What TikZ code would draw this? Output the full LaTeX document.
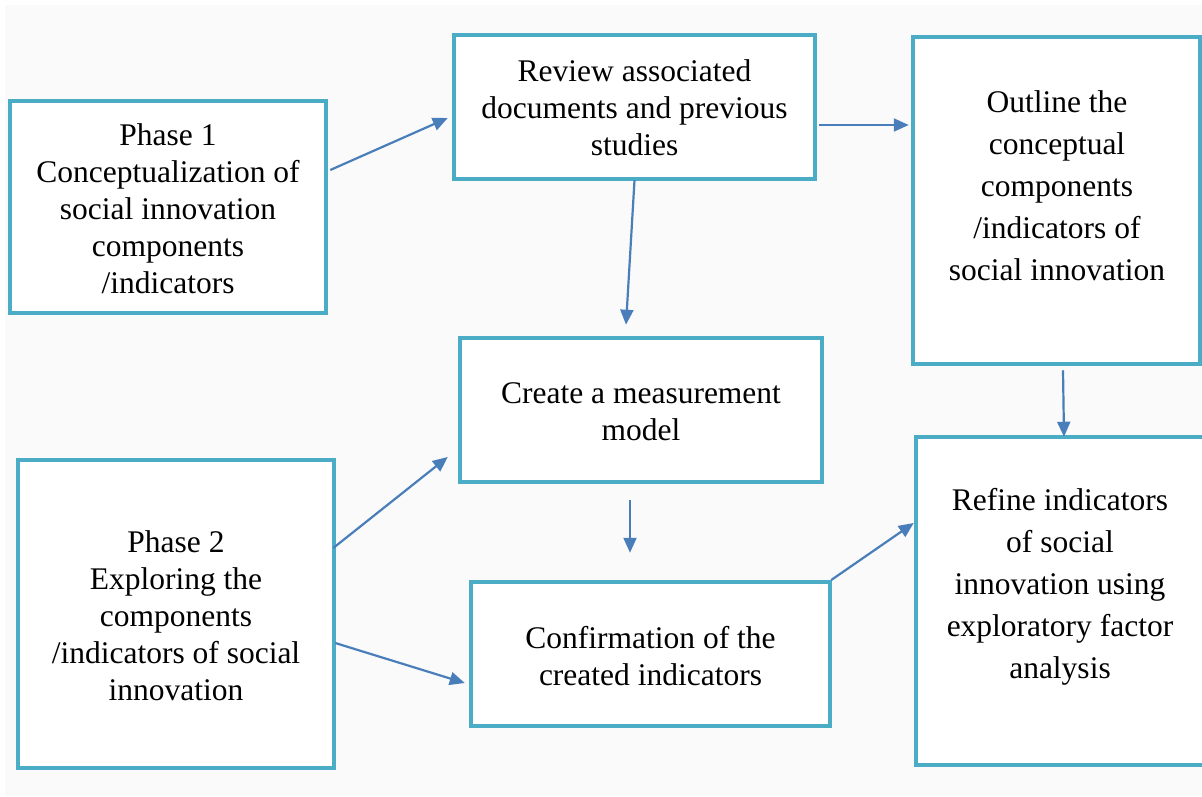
\documentclass[tikz,border=0pt]{standalone}
\usepackage{fontspec}
\setmainfont{Liberation Serif}
\usetikzlibrary{arrows.meta,calc}
\definecolor{boxc}{HTML}{4BACC6}
\definecolor{arrc}{HTML}{4A7EBB}
\definecolor{bgc}{HTML}{FAFAFA}
\begin{document}
\begin{tikzpicture}[x=1pt,y=-1pt,
  box/.style={draw=boxc,line width=4.5pt,fill=white,inner sep=0pt},
  txt/.style={align=center,font=\fontsize{31.5}{37}\selectfont,inner sep=0pt},
  txtw/.style={align=center,font=\fontsize{31.5}{42}\selectfont,inner sep=0pt},
  arr/.style={draw=arrc,line width=2.2pt,-{Triangle[length=15pt,width=13pt]}}]
\useasboundingbox (0,0) rectangle (1202,796);
\clip (0,0) rectangle (1202,796);
\fill[white] (0,0) rectangle (1202,796);
\fill[bgc] (5,5) rectangle (1202,796);
% boxes
\node[box,minimum width=316pt,minimum height=212pt] (p1) at (168,207) {};
\node[box,minimum width=361pt,minimum height=144pt] (rev) at (634.5,107) {};
\node[box,minimum width=287pt,minimum height=327pt] (out) at (1056.5,200.5) {};
\node[box,minimum width=362pt,minimum height=144pt] (cre) at (641,410) {};
\node[box,minimum width=316pt,minimum height=308pt] (p2) at (176,614) {};
\node[box,minimum width=359pt,minimum height=144pt] (con) at (650.5,654) {};
\node[box,minimum width=294pt,minimum height=328pt] (ref) at (1063,601) {};
% texts
\node[txt] (p1t) at (168,209) {Phase 1\\Conceptualization of\\social innovation\\components\\/indicators};
\node[txt] (revt) at (634.5,108) {Review associated\\documents and previous\\studies};
\node[txtw] (outt) at (1057,186) {Outline the\\conceptual\\components\\/indicators of\\social innovation};
\node[txt] (cret) at (641,412) {Create a measurement\\model};
\node[txt] (p2t) at (176,616) {Phase 2\\Exploring the\\components\\/indicators of social\\innovation};
\node[txt] (cont) at (650.5,656) {Confirmation of the\\created indicators};
\node[txtw] (reft) at (1060,587) {Refine indicators\\of social\\innovation using\\exploratory factor\\analysis};
% arrows
\draw[arr] ([xshift=2pt,yshift=37pt]p1.east) -- ([xshift=-4pt,yshift=-11pt]rev.west);
\draw[arr] ([xshift=2pt,yshift=-18pt]rev.east) -- ([xshift=-2pt,yshift=75.5pt]out.west);
\draw[arr] ([yshift=1pt]rev.south) -- ([xshift=-15pt,yshift=11pt]cre.north);
\draw[arr] ([xshift=6.5pt,yshift=-4pt]out.south) -- ([xshift=1pt,yshift=-2pt]ref.north);
\draw[arr] ([xshift=-11pt,yshift=-16pt]cre.south) -- ([xshift=-20.5pt,yshift=27pt]con.north);
\draw[arr] ([xshift=-3pt,yshift=66pt]p2.east) -- ([xshift=-10pt,yshift=-47pt]cre.west);
\draw[arr] ([xshift=-1pt,yshift=-29pt]p2.east) -- ([xshift=-4pt,yshift=-29pt]con.west);
\draw[arr] ([xshift=-1pt,yshift=74pt]con.east) -- ([xshift=0pt,yshift=78pt]ref.west);
\end{tikzpicture}
\end{document}
